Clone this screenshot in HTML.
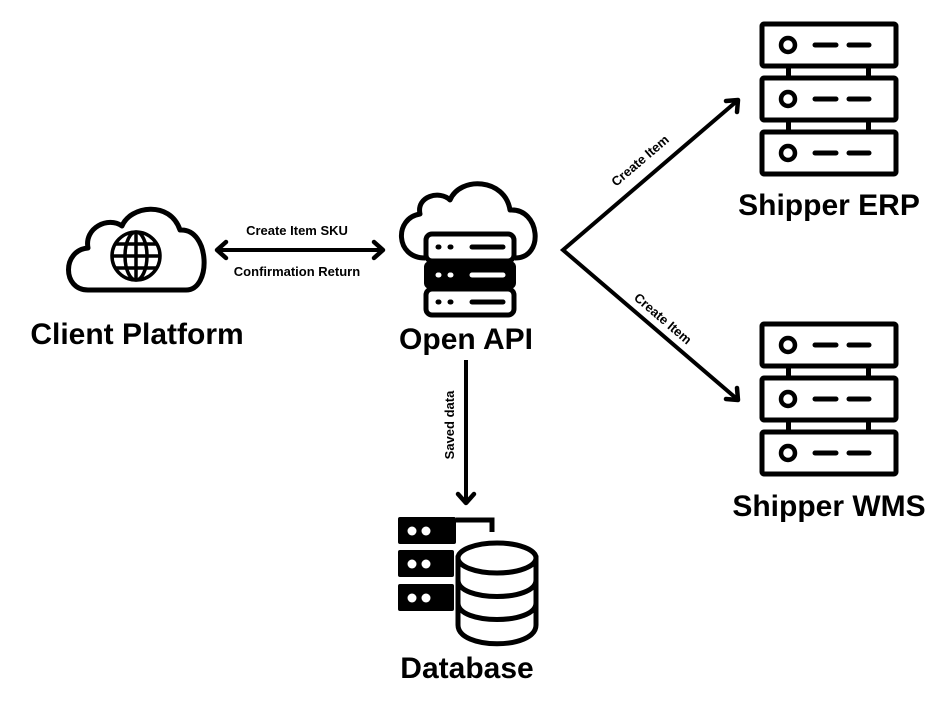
<!DOCTYPE html>
<html><head><style>
body{margin:0;background:#fff;}
svg{display:block;}
.t{font-family:"Liberation Sans",sans-serif;font-weight:bold;fill:#000;}
</style></head><body>
<svg width="951" height="704" viewBox="0 0 951 704" xmlns="http://www.w3.org/2000/svg">
<defs>
<g id="srv">
 <rect x="762" y="24" width="134" height="42" fill="#fff" stroke="#000" stroke-width="5" rx="2"/>
 <circle cx="788" cy="45" r="7" fill="none" stroke="#000" stroke-width="4.5"/>
 <line x1="815" y1="45" x2="836" y2="45" stroke="#000" stroke-width="5" stroke-linecap="round"/>
 <line x1="849" y1="45" x2="869" y2="45" stroke="#000" stroke-width="5" stroke-linecap="round"/>
</g>
<g id="stack">
 <rect x="786" y="64" width="5" height="14" fill="#000"/>
 <rect x="866" y="64" width="5" height="14" fill="#000"/>
 <rect x="786" y="118" width="5" height="14" fill="#000"/>
 <rect x="866" y="118" width="5" height="14" fill="#000"/>
 <use href="#srv"/>
 <use href="#srv" y="54"/>
 <use href="#srv" y="108"/>
</g>
</defs>

<!-- Client cloud -->
<path d="M88,290 C62,290 62,250 88,248 C84,228 108,216 122,226 C130,206 170,200 180,230 C210,228 212,290 186,290 Z" fill="none" stroke="#000" stroke-width="5" stroke-linejoin="round"/>
<g fill="none" stroke="#000" stroke-width="3.5">
<circle cx="136" cy="256" r="24"/>
<ellipse cx="136" cy="256" rx="11" ry="24"/>
<line x1="136" y1="232" x2="136" y2="280"/>
<line x1="112" y1="256" x2="160" y2="256"/>
<line x1="116" y1="244" x2="156" y2="244"/>
<line x1="116" y1="268" x2="156" y2="268"/>
</g>
<text class="t" x="137" y="344" font-size="30" text-anchor="middle">Client Platform</text>

<!-- double arrow -->
<line x1="218" y1="250" x2="382" y2="250" stroke="#000" stroke-width="4"/>
<polyline points="226,242 217,250 226,258" fill="none" stroke="#000" stroke-width="4.5" stroke-linejoin="round" stroke-linecap="round"/>
<polyline points="374,242 383,250 374,258" fill="none" stroke="#000" stroke-width="4.5" stroke-linejoin="round" stroke-linecap="round"/>
<text class="t" x="297" y="235" font-size="13" text-anchor="middle">Create Item SKU</text>
<text class="t" x="297" y="276" font-size="13" text-anchor="middle">Confirmation Return</text>

<!-- Open API -->
<path d="M425,258 C395,258 394,218 420,214 C416,196 440,190 450,200 C460,176 505,178 510,210 C540,208 545,258 515,258" fill="none" stroke="#000" stroke-width="5" stroke-linejoin="round"/>
<rect x="426" y="234" width="88" height="27" rx="6" fill="#fff" stroke="#000" stroke-width="5"/>
<rect x="424" y="261" width="92" height="28" rx="6" fill="#000"/>
<rect x="426" y="289" width="88" height="26" rx="6" fill="#fff" stroke="#000" stroke-width="5"/>
<g stroke-linecap="round" stroke-width="5">
<line x1="438" y1="247" x2="439" y2="247" stroke="#000"/><line x1="450" y1="247" x2="451" y2="247" stroke="#000"/><line x1="472" y1="247" x2="503" y2="247" stroke="#000"/>
<line x1="438" y1="275" x2="439" y2="275" stroke="#fff"/><line x1="450" y1="275" x2="451" y2="275" stroke="#fff"/><line x1="472" y1="275" x2="503" y2="275" stroke="#fff"/>
<line x1="438" y1="302" x2="439" y2="302" stroke="#000"/><line x1="450" y1="302" x2="451" y2="302" stroke="#000"/><line x1="472" y1="302" x2="503" y2="302" stroke="#000"/>
</g>
<text class="t" x="466" y="349" font-size="30" text-anchor="middle">Open API</text>

<!-- down arrow -->
<line x1="466" y1="360" x2="466" y2="502" stroke="#000" stroke-width="4"/>
<polyline points="458,494 466,503 474,494" fill="none" stroke="#000" stroke-width="4.5" stroke-linejoin="round" stroke-linecap="round"/>
<text class="t" font-size="13" text-anchor="middle" transform="translate(454,425) rotate(-90)">Saved data</text>

<!-- Database -->
<rect x="398" y="517" width="58" height="27" rx="2" fill="#000"/>
<path d="M456,520 H492 V532" fill="none" stroke="#000" stroke-width="5"/>
<rect x="398" y="550" width="56" height="27" rx="2" fill="#000"/>
<rect x="398" y="584" width="56" height="27" rx="2" fill="#000"/>
<g fill="#fff"><circle cx="412" cy="531" r="4.5"/><circle cx="426" cy="531" r="4.5"/><circle cx="412" cy="564" r="4.5"/><circle cx="426" cy="564" r="4.5"/><circle cx="412" cy="598" r="4.5"/><circle cx="426" cy="598" r="4.5"/></g>
<path d="M458,558 V625 C458,650 536,650 536,625 V558 Z" fill="#fff" stroke="#000" stroke-width="5"/>
<ellipse cx="497" cy="558" rx="39" ry="15" fill="#fff" stroke="#000" stroke-width="5"/>
<path d="M458,580 C458,602 536,602 536,580 M458,603 C458,625 536,625 536,603" fill="none" stroke="#000" stroke-width="5"/>
<text class="t" x="467" y="678" font-size="30" text-anchor="middle">Database</text>

<!-- branch arrows -->
<polyline points="737,101 563,250 737,399" fill="none" stroke="#000" stroke-width="4" stroke-linejoin="miter"/>
<polyline points="726,101 738,100 737,112" fill="none" stroke="#000" stroke-width="4.5" stroke-linecap="round" stroke-linejoin="round"/>
<polyline points="726,399 738,400 737,388" fill="none" stroke="#000" stroke-width="4.5" stroke-linecap="round" stroke-linejoin="round"/>
<text class="t" font-size="13" text-anchor="middle" transform="translate(643,164) rotate(-40.6)">Create Item</text>
<text class="t" font-size="13" text-anchor="middle" transform="translate(660,322) rotate(40.6)">Create Item</text>

<!-- servers -->
<use href="#stack"/>
<use href="#stack" y="300"/>
<text class="t" x="829" y="215" font-size="30" text-anchor="middle">Shipper ERP</text>
<text class="t" x="829" y="516" font-size="30" text-anchor="middle">Shipper WMS</text>
</svg>
</body></html>
